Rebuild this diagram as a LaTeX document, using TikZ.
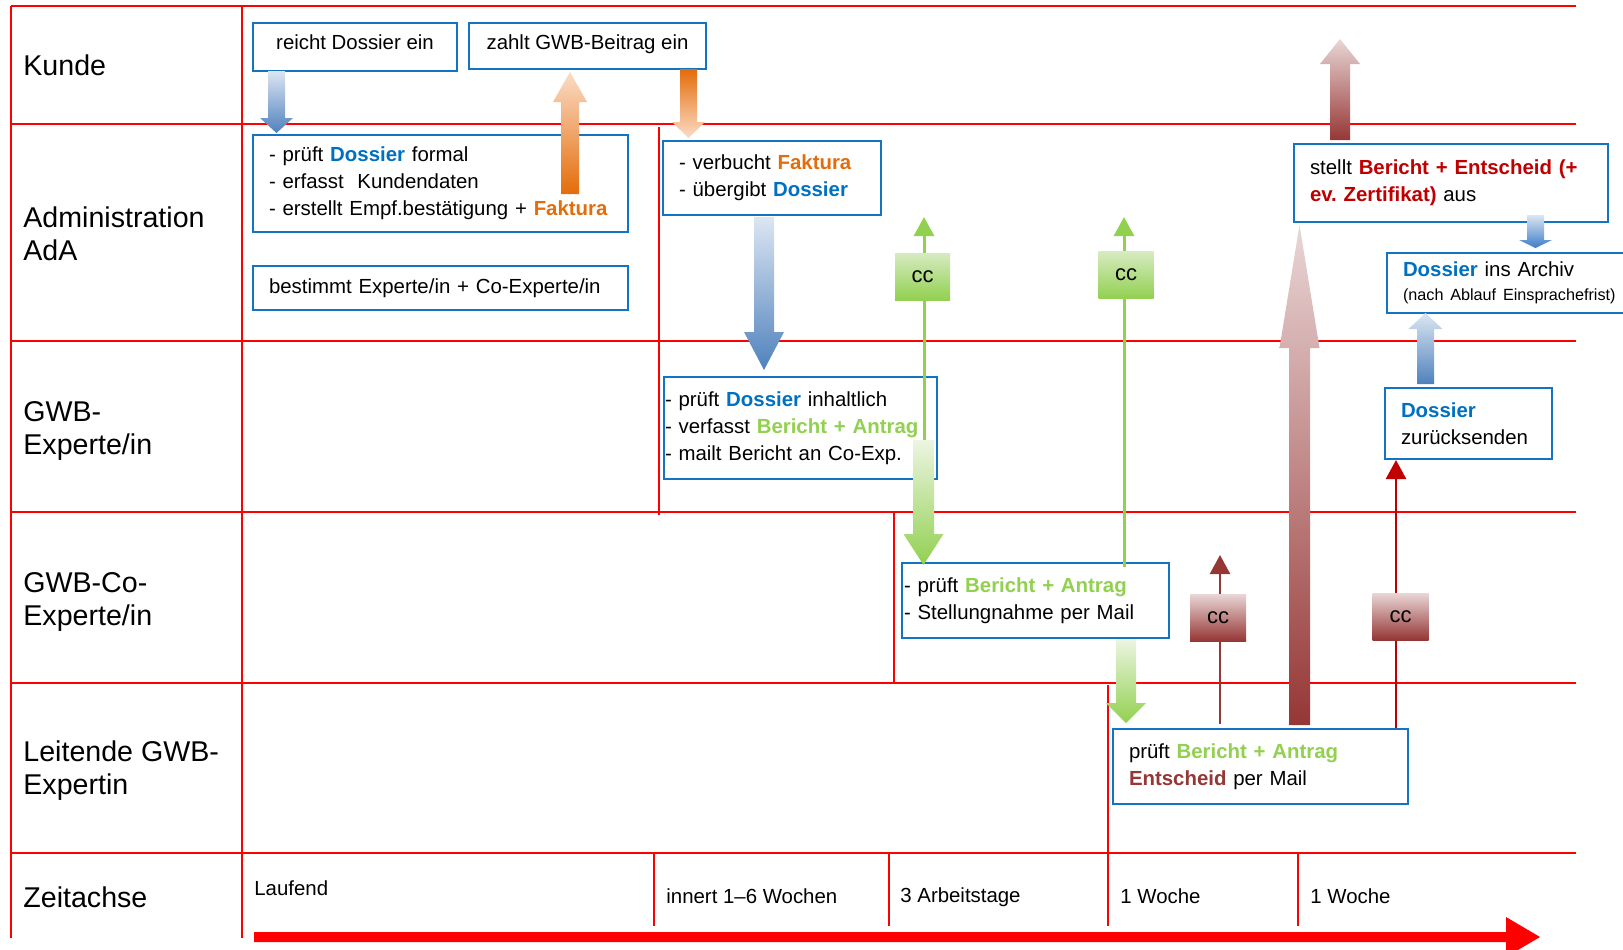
\documentclass[tikz,border=0pt]{standalone}
\usepackage{fontspec}
\setmainfont{Liberation Sans}
\usetikzlibrary{arrows.meta}
\frenchspacing
\definecolor{gridred}{RGB}{255,0,0}
\definecolor{boxblue}{RGB}{20,115,195}
\definecolor{dossblue}{RGB}{0,112,192}
\definecolor{faktorange}{RGB}{228,108,10}
\definecolor{bagreen}{RGB}{146,208,80}
\definecolor{entred}{RGB}{192,0,0}
\definecolor{darkred}{RGB}{149,55,53}
\definecolor{bluelight}{RGB}{220,230,242}
\definecolor{bluedark}{RGB}{79,129,189}
\definecolor{bluemid}{RGB}{60,125,200}
\definecolor{orlight}{RGB}{251,220,198}
\definecolor{pinklight}{RGB}{233,214,214}
\definecolor{greenlight}{RGB}{236,245,226}
\definecolor{ccgtop}{RGB}{214,235,192}
\newcommand{\bxfont}{\fontsize{10.2}{13.5}\selectfont}
\newcommand{\lnfont}{\fontsize{14.3}{16.5}\selectfont}
\newcommand{\ccfont}{\fontsize{11}{13}\selectfont}
\newcommand{\mDos}{\textcolor{dossblue}{\textbf{Dossier}}}
\newcommand{\mFak}{\textcolor{faktorange}{\textbf{Faktura}}}
\newcommand{\mBA}{\textcolor{bagreen}{\textbf{Bericht + Antrag}}}
% block arrow: x, y tail, y head base, y tip, half shaft, half head, top colour, bottom colour
\newcommand{\barrow}[8]{\shade[top color=#7,bottom color=#8] (#1-#5,#2) -- (#1+#5,#2) -- (#1+#5,#3) -- (#1+#6,#3) -- (#1,#4) -- (#1-#6,#3) -- (#1-#5,#3) -- cycle;}
\begin{document}
\begin{tikzpicture}[x=0.5pt,y=-0.5pt,
  grid/.style={draw=gridred,line width=0.75pt},
  box/.style={draw=boxblue,line width=1pt,fill=white,inner ysep=0pt,font=\bxfont,align=left},
  lane/.style={anchor=west,font=\lnfont,align=left,inner sep=0pt},
  tlabel/.style={anchor=west,font=\bxfont,inner sep=0pt},
  ccg/.style={minimum width=27.5pt,minimum height=23.5pt,inner sep=0pt,font=\ccfont,top color=ccgtop,bottom color=bagreen},
  ccb/.style={minimum width=28pt,minimum height=23.5pt,inner sep=0pt,font=\ccfont,top color=pinklight,bottom color=darkred},
  gline/.style={draw=bagreen,line width=1.5pt,-{Triangle[width=10pt,length=9.5pt]}},
  bline/.style={draw=darkred,line width=1.25pt,-{Triangle[width=10pt,length=9.5pt]}},
  rline/.style={draw=entred,line width=1.25pt,-{Triangle[width=10pt,length=9.5pt]}}]
\useasboundingbox (0,0) rectangle (1623,949);
% grid
\foreach \yy in {6,124,341,512,683,853} \draw[grid] (11,\yy) -- (1576,\yy);
\draw[grid] (11,6) -- (11,938);
\draw[grid] (242,6) -- (242,938);
\draw[grid] (659,127) -- (659,515);
\draw[grid] (894,512) -- (894,683);
\draw[grid] (1108,685) -- (1108,926);
\draw[grid] (654,853) -- (654,926);
\draw[grid] (889,853) -- (889,926);
\draw[grid] (1298,853) -- (1298,926);
% time arrow
\fill[gridred] (254,932) -- (1506,932) -- (1506,917) -- (1540,937) -- (1506,957) -- (1506,942) -- (254,942) -- cycle;
% lane labels
\node[lane] (lk) at (23,65) {Kunde};
\node[lane] (la) at (23,234) {Administration\\AdA};
\node[lane] (le) at (23,431) {GWB-\\Experte/in};
\node[lane] (lc) at (23,602) {GWB-Co-\\Experte/in};
\node[lane] (ll) at (23,771) {Leitende GWB-\\Expertin};
\node[lane] (lz) at (23,897) {Zeitachse};
% time labels
\node[tlabel] (t1) at (254,888) {Laufend};
\node[tlabel] (t2) at (666,896) {innert 1–6 Wochen};
\node[tlabel] (t3) at (900,897) {3 Arbeitstage};
\node[tlabel] (t4) at (1120,896) {1 Woche};
\node[tlabel] (t5) at (1310,896) {1 Woche};
% boxes
\node[box,minimum width=102pt,minimum height=24pt,align=center,text height=7.5pt,text depth=5pt] (reicht) at (355,47) {reicht Dossier ein};
\node[box,minimum width=118.5pt,minimum height=23pt,align=center,text height=7.5pt,text depth=4.5pt] (zahlt) at (587.5,46) {zahlt GWB-Beitrag ein};
\node[box,minimum width=187.5pt,minimum height=48.5pt,inner xsep=8pt,text width=171.5pt] (pruef) at (440.5,183.5) {- prüft \mDos{} formal\\- erfasst\ \ Kundendaten\\- erstellt Empf.bestätigung + \mFak};
\node[box,minimum width=187.5pt,minimum height=22pt,inner xsep=8pt,text width=171.5pt] (bestimmt) at (440.5,288) {bestimmt Experte/in + Co-Experte/in};
\node[box,minimum width=109pt,minimum height=37pt,inner xsep=8pt,text width=93pt] (verbucht) at (772,178) {- verbucht \mFak\\- übergibt \mDos};
\node[box,minimum width=136.5pt,minimum height=51pt,inner xsep=0.5pt,text width=135.5pt] (expert) at (800.5,428) {- prüft \mDos{} inhaltlich\\- verfasst \mBA\\- mailt Bericht an Co-Exp.};
\node[box,minimum width=133.5pt,minimum height=37.5pt,inner xsep=1pt,text width=131.5pt] (coexp) at (1035.5,600.5) {- prüft \mBA\\- Stellungnahme per Mail};
\node[box,minimum width=147.5pt,minimum height=37.5pt,inner xsep=8pt,text width=131.5pt] (leit) at (1260.5,766.5) {prüft \mBA\\\textcolor{darkred}{\textbf{Entscheid}} per Mail};
\node[box,minimum width=157pt,minimum height=39pt,inner xsep=8pt,text width=141pt] (stellt) at (1451,183) {stellt \textcolor{entred}{\textbf{Bericht + Entscheid (+}}\\\textcolor{entred}{\textbf{ev. Zertifikat)}} aus};
\node[box,minimum width=126pt,minimum height=30pt,inner xsep=8pt,text width=110pt,anchor=west] (archiv) at (1386,283) {\mDos{} ins Archiv\\[-1.5pt]{\fontsize{8.1}{10}\selectfont (nach Ablauf Einsprachefrist)}};
\node[box,minimum width=83.5pt,minimum height=35.5pt,inner xsep=8pt,text width=67.5pt] (zurueck) at (1468.5,423.5) {\mDos\\zurücksenden};
% block arrows
\barrow{276.5}{71}{118}{133}{8.5}{16.5}{bluelight}{bluedark}
\barrow{570}{194}{102}{72}{9}{17}{orlight}{faktorange}
\barrow{688.5}{69}{122}{138}{8.5}{16.5}{faktorange}{orlight}
\barrow{764}{217}{332}{370}{10}{20}{bluelight}{bluedark}
\barrow{923.5}{440}{534}{565}{10.5}{20}{greenlight}{bagreen}
\barrow{1126}{639}{703}{723}{10}{20}{greenlight}{bagreen}
\barrow{1299.5}{725}{348}{225}{10.5}{20}{pinklight}{darkred}
\barrow{1340}{140}{64}{39}{10}{20}{pinklight}{darkred}
\barrow{1535.5}{215}{240}{248}{8.5}{16.5}{bluelight}{bluemid}
\barrow{1425.5}{384}{329}{313}{8.5}{17}{bluelight}{bluedark}
% cc line arrows
\coordinate (tip1) at (924,217);
\coordinate (tip2) at (1124,217);
\coordinate (tip3) at (1220,555);
\draw[gline] (924,440) -- (tip1);
\draw[gline] (coexp.north -| tip2) ++(0,5) -- (tip2);
\draw[bline] (leit.north -| tip3) ++(0,-4) -- (tip3);
\draw[rline] (leit.north -| 1396,0) -- (zurueck.south -| 1396,0);
\node[ccg] (cc1) at (922.5,276.5) {cc};
\node[ccg] (cc2) at (1126,275) {cc};
\node[ccb] (cc3) at (1218,617.5) {cc};
\node[ccb] (cc4) at (1400.5,616.5) {cc};
\end{tikzpicture}
\end{document}
